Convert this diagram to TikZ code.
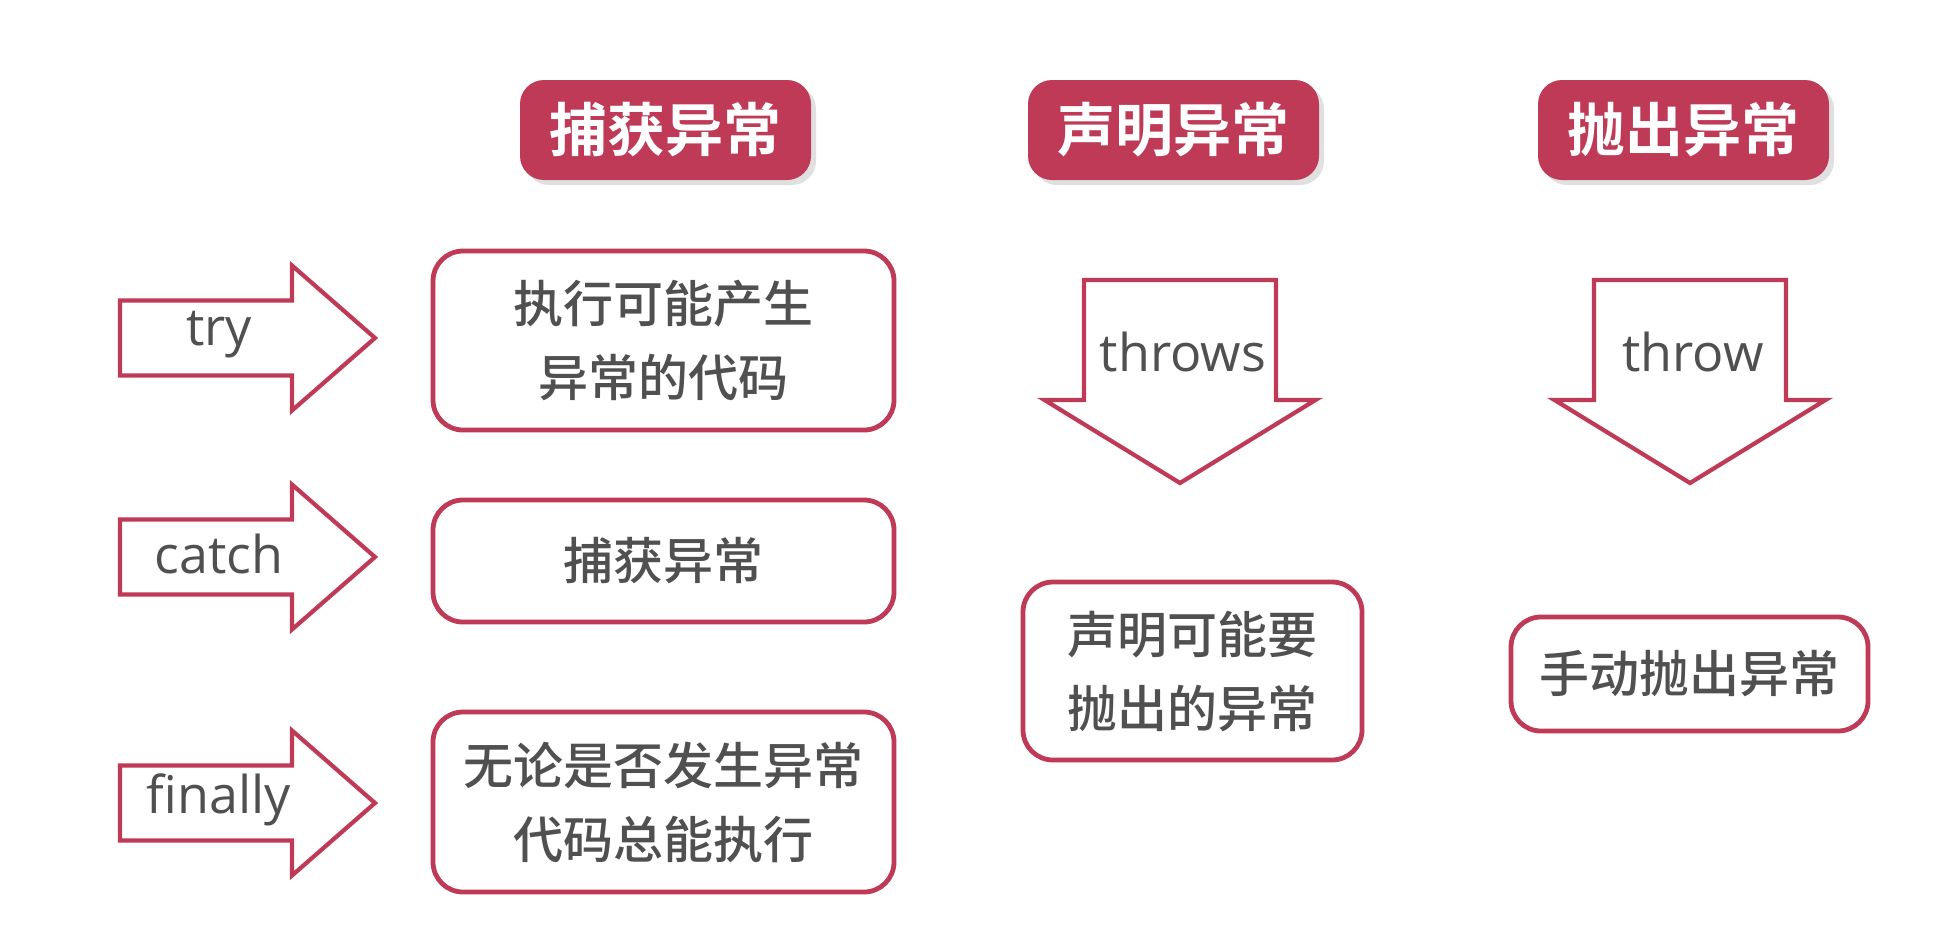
\documentclass[tikz,border=0pt]{standalone}
\usepackage{fontspec}
\setmainfont{Open Sans}
\newfontfamily\cjk{Noto Sans CJK SC}[UprightFont={* Medium}, BoldFont={* Bold}]
\usetikzlibrary{shadows}

\definecolor{crimson}{HTML}{BF3A56}
\definecolor{txtgray}{HTML}{505050}

\begin{document}
\begin{tikzpicture}[x=0.5pt, y=-0.5pt,
    head/.style={fill=crimson, rounded corners=12pt, minimum width=145.5pt, minimum height=50pt,
                 text=white, font=\cjk\bfseries\fontsize{29}{34}\selectfont,
                 drop shadow={shadow xshift=2.5pt, shadow yshift=-2.5pt, fill=black, opacity=0.12}},
    box/.style={draw=crimson, line width=2.4pt, rounded corners=15pt, align=center,
                text=txtgray, font=\cjk\fontsize{25}{37}\selectfont},
    arrowshape/.style={draw=crimson, line width=2.1pt, fill=white, line join=miter},
    arrowtext/.style={text=txtgray, font=\fontsize{26}{30}\selectfont},
]
\useasboundingbox (0,0) rectangle (1942,944);

% column headers
\node[head] (hcatch) at (665.5,130) {捕获异常};
\node[head] (hdecl) at (1173.5,130) {声明异常};
\node[head] (hthrow) at (1683.5,130) {抛出异常};

% try / catch / finally
\foreach \y/\lbl/\nm in {338/try/try, 557/catch/catch, 803/finally/fin}{
  \draw[arrowshape] (120,{\y-37.5}) -- (292,{\y-37.5}) -- (292,{\y-72.5}) -- (375,\y)
    -- (292,{\y+72.5}) -- (292,{\y+37.5}) -- (120,{\y+37.5}) -- cycle;
  \node[arrowtext] (\nm) at (219,{\y-3}) {\lbl};
}

\node[box, minimum width=230.5pt, minimum height=89.5pt] (trybox) at (663.5,340.5)
  {执行可能产生\\异常的代码};
\node[box, minimum width=230.5pt, minimum height=61pt] (catchbox) at (663.5,561)
  {捕获异常};
\node[box, minimum width=230.5pt, minimum height=90pt] (finbox) at (663.5,802)
  {无论是否发生异常\\代码总能执行};

% throws / throw
\foreach \x/\lbl/\nm in {1180/throws/throws, 1690/throw/throw}{
  \draw[arrowshape] ({\x-96},280) -- ({\x+96},280) -- ({\x+96},400) -- ({\x+135.5},400)
    -- (\x,483) -- ({\x-135.5},400) -- ({\x-96},400) -- cycle;
  \node[arrowtext] (\nm) at ({\x+3},352) {\lbl};
}

\node[box, minimum width=169.5pt, minimum height=89pt] (declbox) at (1192.5,671)
  {声明可能要\\抛出的异常};
\node[box, minimum width=178.5pt, minimum height=57pt] (throwbox) at (1689.5,674)
  {手动抛出异常};
\end{tikzpicture}
\end{document}
